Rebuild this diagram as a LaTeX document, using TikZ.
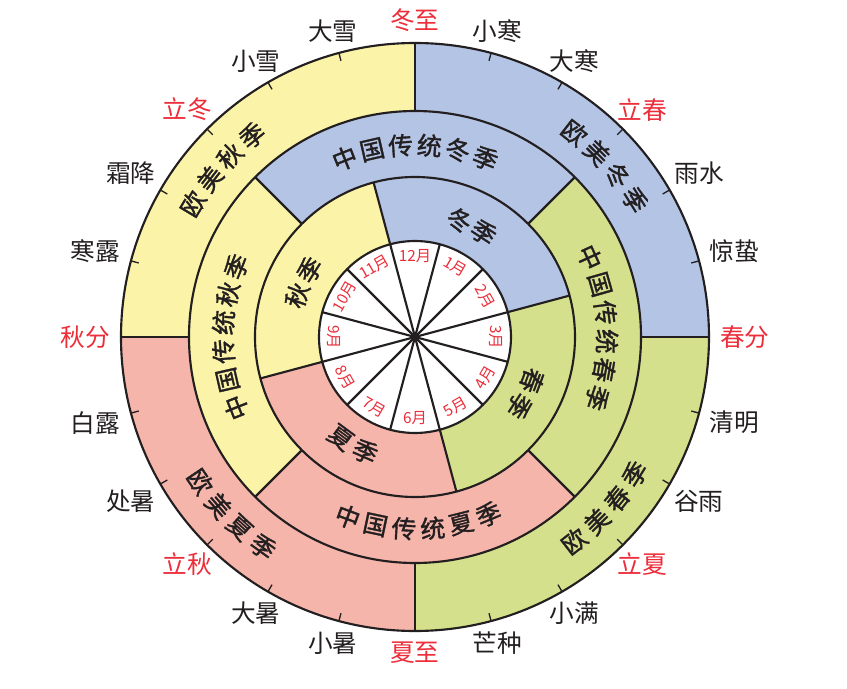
\documentclass[tikz,border=0pt]{standalone}
\usepackage{fontspec}
\setmainfont{Noto Sans CJK SC}
\newfontfamily\ringfont[FakeBold=1.4]{Noto Sans CJK SC}
\usepackage{xcolor}
\definecolor{qiu}{HTML}{FBF4A8}
\definecolor{dong}{HTML}{B4C4E4}
\definecolor{chun}{HTML}{D4E08B}
\definecolor{xia}{HTML}{F5B5AB}
\definecolor{jie}{HTML}{EC2D3A}
\definecolor{ink}{HTML}{231F20}

\newcommand{\arctext}[7]{%
  \foreach \ch [count=\k] in {#7} {
    \pgfmathsetmacro\ang{#3+(\k-(#2+1)/2)*#4}
    \node[ringtxt, rotate=\ang+#6] (#1_\k) at (\ang:#5) {\ch};
  }}

\begin{document}
\begin{tikzpicture}[x=0.75pt,y=0.75pt]
	\tikzset{ring/.style = {line width=1.6pt, draw=ink}}
	\tikzset{term/.style = {font=\fontsize{18.5}{18.5}\selectfont, inner sep=0pt}}
	\tikzset{month/.style = {font=\fontsize{11.5}{11.5}\selectfont, text=jie, inner sep=0pt}}
	\tikzset{ringtxt/.style = {font=\ringfont\fontsize{18.5}{18.5}\selectfont, text=ink, inner sep=0pt}}

	\useasboundingbox (-415,-352) rectangle (432,337);

	\foreach \a/\c in {90/dong, 0/chun, -90/xia, 180/qiu}
		\fill[\c] (0,0) -- (\a:294) arc[start angle=\a, end angle=\a-90, radius=294] -- cycle;
	\foreach \a/\c in {135/dong, 45/chun, -45/xia, -135/qiu}
		\fill[\c] (0,0) -- (\a:226) arc[start angle=\a, end angle=\a-90, radius=226] -- cycle;
	\foreach \a/\c in {105/dong, 15/chun, -75/xia, -165/qiu}
		\fill[\c] (0,0) -- (\a:160) arc[start angle=\a, end angle=\a-90, radius=160] -- cycle;
	\fill[white] (0,0) circle[radius=96];

	\foreach \r in {294,226,160,96}
		\draw[ring] (0,0) circle[radius=\r];
	\foreach \a in {0,90,180,270}
		\draw[ring] (\a:226) -- (\a:294);
	\foreach \a in {45,135,225,315}
		\draw[ring] (\a:160) -- (\a:226);
	\foreach \a in {15,105,195,285}
		\draw[ring] (\a:96) -- (\a:160);
	\foreach \a in {15,45,...,345}
		\draw[ring] (0,0) -- (\a:96);
	\fill[ink] (0,0) circle[radius=3.5];
	\foreach \q in {0,90,180,270}
		\foreach \d in {15,30,...,75}
			\draw[ink, line width=1pt] (\q+\d:294) -- (\q+\d:286);

	\foreach \t/\c [count=\i] in {冬至/jie, 小寒/ink, 大寒/ink, 立春/jie, 雨水/ink, 惊蛰/ink,
		春分/jie, 清明/ink, 谷雨/ink, 立夏/jie, 小满/ink, 芒种/ink,
		夏至/jie, 小暑/ink, 大暑/ink, 立秋/jie, 处暑/ink, 白露/ink,
		秋分/jie, 寒露/ink, 霜降/ink, 立冬/jie, 小雪/ink, 大雪/ink} {
		\pgfmathtruncatemacro\a{105-15*\i}
		\pgfmathtruncatemacro\b{\a+180}
		\node[term, text=\c, anchor=\b] (T_\i) at (\a:305) {\t};
	}

	\foreach \m/\r [count=\i] in {12/0, 1/-30, 2/-60, 3/-90, 4/60, 5/30,
		6/0, 7/-30, 8/-60, 9/-90, 10/60, 11/30}
		\node[month, rotate=\r] (M_\m) at ({120-30*\i}:81) {\m 月};

	\arctext{CN_dong}{6}{90}{-8.6}{192}{-90}{中,国,传,统,冬,季}
	\arctext{CN_chun}{6}{3}{-8.6}{192}{-90}{中,国,传,统,春,季}
	\arctext{CN_xia}{6}{-89}{8.6}{192}{90}{中,国,传,统,夏,季}
	\arctext{CN_qiu}{6}{180}{-8.6}{192}{-90}{中,国,传,统,秋,季}

	\arctext{EU_dong}{4}{42}{-6.7}{259}{-90}{欧,美,冬,季}
	\arctext{EU_chun}{4}{-42}{6.7}{259}{90}{欧,美,春,季}
	\arctext{EU_xia}{4}{-136}{6.7}{259}{90}{欧,美,夏,季}
	\arctext{EU_qiu}{4}{139}{-6.7}{259}{-90}{欧,美,秋,季}

	\arctext{S_dong}{2}{63}{-12.5}{125}{-90}{冬,季}
	\arctext{S_chun}{2}{-27}{-13}{125}{-90}{春,季}
	\arctext{S_xia}{2}{-120}{13}{125}{90}{夏,季}
	\arctext{S_qiu}{2}{154}{-13}{125}{-90}{秋,季}

\end{tikzpicture}
\end{document}
